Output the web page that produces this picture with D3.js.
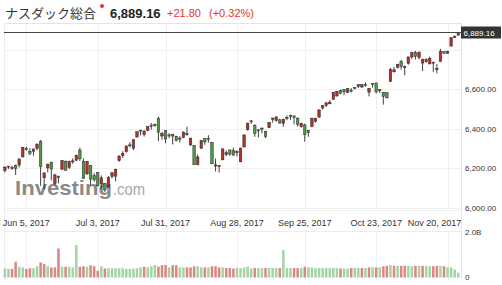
<!DOCTYPE html>
<html><head><meta charset="utf-8">
<script src="https://cdn.jsdelivr.net/npm/d3@7"></script>
<style>body{margin:0;background:#fff}svg{display:block;font-family:Arial,"Liberation Sans",sans-serif}</style>
</head><body><svg id="c" width="502" height="285"></svg>
<script>
const dates = ["05-25","05-26","05-30","05-31",
"06-01","06-02","06-05","06-06","06-07","06-08","06-09","06-12","06-13","06-14","06-15","06-16","06-19","06-20","06-21","06-22","06-23","06-26","06-27","06-28","06-29","06-30",
"07-03","07-05","07-06","07-07","07-10","07-11","07-12","07-13","07-14","07-17","07-18","07-19","07-20","07-21","07-24","07-25","07-26","07-27","07-28","07-31",
"08-01","08-02","08-03","08-04","08-07","08-08","08-09","08-10","08-11","08-14","08-15","08-16","08-17","08-18","08-21","08-22","08-23","08-24","08-25","08-28","08-29","08-30","08-31",
"09-01","09-05","09-06","09-07","09-08","09-11","09-12","09-13","09-14","09-15","09-18","09-19","09-20","09-21","09-22","09-25","09-26","09-27","09-28","09-29",
"10-02","10-03","10-04","10-05","10-06","10-09","10-10","10-11","10-12","10-13","10-16","10-17","10-18","10-19","10-20","10-23","10-24","10-25","10-26","10-27","10-30","10-31",
"11-01","11-02","11-03","11-06","11-07","11-08","11-09","11-10","11-13","11-14","11-15","11-16","11-17","11-20","11-21","11-22","11-24"].map(d => "2017-" + d);

const open = [6188,6207,6200,6213,6216,6257,6300,6285,6285,6300,6336,6151,6201,6230,6121,6158,6194,6235,6204,6232,6240,6292,6235,6170,6212,6163,
6177,6120,6122,6102,6157,6159,6238,6263,6283,6318,6301,6358,6393,6371,6390,6418,6421,6452,6363,6391,
6369,6371,6362,6352,6355,6376,6318,6315,6218,6300,6351,6351,6330,6210,6213,6242,6268,6292,6290,6281,6232,6307,6395,
6440,6416,6394,6403,6387,6405,6447,6441,6445,6427,6458,6467,6465,6454,6410,6419,6392,6412,6437,6459,
6505,6519,6526,6549,6566,6593,6600,6585,6596,6610,6614,6612,6625,6586,6630,6632,6593,6584,6583,6640,6689,6711,
6740,6714,6731,6764,6788,6762,6733,6740,6729,6735,6700,6741,6792,6782,6819,6867,6875];
const high = [6209,6211,6212,6218,6247,6306,6309,6301,6298,6325,6342,6179,6222,6233,6171,6162,6241,6238,6238,6249,6268,6303,6249,6236,6215,6174,
6180,6163,6125,6160,6180,6197,6265,6285,6314,6331,6345,6385,6393,6392,6414,6429,6425,6461,6384,6392,
6377,6375,6363,6363,6384,6410,6353,6317,6269,6341,6352,6367,6333,6248,6216,6300,6290,6294,6304,6290,6303,6371,6429,
6444,6423,6398,6406,6389,6433,6455,6460,6451,6450,6467,6471,6466,6456,6430,6426,6394,6456,6455,6496,
6518,6532,6545,6586,6590,6599,6600,6604,6606,6611,6624,6624,6635,6606,6631,6634,6600,6587,6584,6708,6713,6728,
6750,6721,6765,6787,6795,6790,6756,6757,6766,6739,6728,6805,6792,6796,6863,6874,6890];
const low = [6178,6196,6191,6165,6203,6253,6288,6266,6263,6290,6110,6092,6178,6138,6110,6123,6193,6188,6196,6222,6236,6236,6146,6167,6110,6131,
6107,6094,6077,6101,6148,6133,6232,6252,6278,6305,6291,6355,6366,6360,6389,6396,6409,6337,6344,6326,
6352,6320,6335,6330,6352,6363,6312,6216,6214,6299,6318,6329,6221,6183,6177,6240,6260,6262,6264,6260,6230,6306,6390,
6425,6359,6356,6376,6352,6404,6431,6436,6425,6410,6443,6445,6422,6411,6405,6334,6359,6407,6431,6455,
6497,6510,6525,6548,6563,6575,6570,6580,6583,6599,6607,6607,6614,6564,6608,6578,6581,6522,6555,6637,6685,6706,
6700,6671,6725,6754,6751,6752,6693,6735,6727,6689,6681,6740,6781,6781,6819,6860,6872];
const close = [6205.26,6210.19,6203.19,6198.52,6246.83,6305.80,6295.68,6275.06,6297.38,6321.76,6207.92,6175.46,6220.37,6194.89,6165.50,6151.76,6239.01,6188.03,6233.95,6236.69,6265.25,6247.15,6146.62,6234.41,6144.35,6140.42,
6110.06,6150.86,6089.46,6153.08,6176.39,6193.30,6261.17,6274.44,6312.47,6314.43,6344.31,6385.04,6390.00,6387.75,6410.81,6412.17,6422.75,6382.19,6374.68,6348.12,
6362.94,6362.65,6340.34,6351.56,6383.77,6370.46,6352.33,6216.87,6256.56,6340.23,6333.01,6345.11,6221.91,6216.53,6213.13,6297.48,6278.41,6271.33,6265.64,6283.02,6301.89,6368.31,6428.66,
6435.33,6375.57,6393.31,6397.87,6360.19,6432.26,6454.28,6460.19,6429.08,6448.47,6454.64,6461.32,6456.04,6422.69,6426.92,6370.59,6380.16,6453.26,6453.45,6495.96,
6516.72,6531.71,6534.63,6585.36,6590.18,6579.73,6587.25,6603.55,6591.51,6605.80,6624.00,6623.66,6624.22,6605.07,6629.05,6586.83,6598.43,6563.89,6556.77,6701.26,6698.96,6727.67,
6716.53,6714.94,6764.44,6786.44,6767.78,6789.12,6750.05,6750.94,6757.60,6737.87,6706.21,6793.29,6782.79,6790.71,6862.48,6867.36,6889.16];
const prevClose = 6163.02;
// volume in billions
const volume = [.41,.38,.38,.70,.48,.45,.38,.41,.41,.50,
.67,.60,.50,.45,.45,1.29,.48,.48,.48,.45,
1.44,.48,.50,.48,.54,.50,.30,.50,.40,.41,
.41,.41,.41,.41,.38,.38,.40,.41,.45,.48,
.45,.50,.55,.48,.55,.55,.45,.55,.55,.45,
.45,.45,.45,.50,.50,.45,.45,.45,.50,.50,
.45,.45,.42,.42,.40,.42,.42,.45,.48,.40,
.42,.42,.42,.42,.42,.42,.42,.42,1.22,.42,
.42,.42,.42,.42,.48,.45,.45,.42,.42,.42,
.42,.42,.42,.42,.40,.40,.40,.42,.42,.42,
.42,.42,.45,.45,.45,.45,.50,.52,.55,.52,
.52,.52,.52,.52,.50,.52,.52,.52,.52,.50,
.50,.52,.52,.50,.45,.45,.35,.22];
const priceTicks = [6000, 6200, 6400, 6600, 6800];
const priceTickLabels = ["6,000.00", "6,200.00", "6,400.00", "6,600.00", ""];
const dateTicks = ["2017-06-05","2017-07-03","2017-07-31","2017-08-28","2017-09-25","2017-10-23","2017-11-20"];
const dateTickLabels = ["Jun 5, 2017","Jul 3, 2017","Jul 31, 2017","Aug 28, 2017","Sep 25, 2017","Oct 23, 2017","Nov 20, 2017"];
const volTicks = [0, 2.0];
const volTickLabels = ["0", "2.0B"];
const title = "ナスダック総合";
const lastLabel = "6,889.16";
const changeLabel = "+21.80";
const pctLabel = "(+0.32%)";

const svg = d3.select("#c");
const L = 4, R = 461;
const x = d3.scaleBand().domain(dates).range([2.6, 460.6]).padding(0.3);
const cx = d => x(d) + x.bandwidth() / 2;
const y = d3.scaleLinear().domain([6000, 6600]).range([207.5, 89.3]);
const yv = d3.scaleLinear().domain([0, 2.0]).range([277.5, 232.5]);

// header
svg.append("text").attr("x", 5).attr("y", 18).attr("font-family", "'Noto Sans CJK JP'").attr("font-size", 13).attr("fill", "#333").text(title);
svg.append("circle").attr("cx", 102).attr("cy", 6).attr("r", 2).attr("fill", "#e3342f");
svg.append("text").attr("x", 110).attr("y", 17.5).attr("font-size", 13).attr("font-weight", "bold").attr("fill", "#222").text(lastLabel);
svg.append("text").attr("x", 167).attr("y", 17).attr("font-size", 11).attr("fill", "#e3342f").text(changeLabel);
svg.append("text").attr("x", 209).attr("y", 17).attr("font-size", 11).attr("fill", "#e3342f").text(pctLabel);

// grid
const g = svg.append("g");
g.append("line").attr("x1", L).attr("x2", R).attr("y1", 23.5).attr("y2", 23.5).attr("stroke", "#e4e4e4");
g.selectAll(".hg").data(priceTicks).join("line").attr("x1", L).attr("x2", R)
  .attr("y1", d => Math.round(y(d)) + 0.5).attr("y2", d => Math.round(y(d)) + 0.5).attr("stroke", "#f0f0f0");
g.selectAll(".vg").data(dateTicks).join("line").attr("x1", d => Math.round(cx(d)) + 0.5).attr("x2", d => Math.round(cx(d)) + 0.5)
  .attr("y1", 24).attr("y2", 210).attr("stroke", "#f0f0f0");
g.selectAll(".vg2").data(dateTicks).join("line").attr("x1", d => Math.round(cx(d)) + 0.5).attr("x2", d => Math.round(cx(d)) + 0.5)
  .attr("y1", 232).attr("y2", 280).attr("stroke", "#f0f0f0");
g.append("line").attr("x1", L).attr("x2", R).attr("y1", 210.5).attr("y2", 210.5).attr("stroke", "#f0f0f0");
g.append("line").attr("x1", L).attr("x2", R).attr("y1", 231.5).attr("y2", 231.5).attr("stroke", "#ececec");
g.append("line").attr("x1", L + 0.5).attr("x2", L + 0.5).attr("y1", 23).attr("y2", 280).attr("stroke", "#ececec");
g.append("line").attr("x1", R + 0.5).attr("x2", R + 0.5).attr("y1", 23).attr("y2", 278).attr("stroke", "#dfe5ee");

// watermark
svg.append("text").attr("x", 15).attr("y", 195).attr("fill", "#8a8a8a").attr("font-size", 21).attr("font-weight", "bold")
  .attr("textLength", 97).attr("lengthAdjust", "spacingAndGlyphs").text("Investing");
svg.append("text").attr("x", 113).attr("y", 195).attr("fill", "#a8a8a8").attr("font-size", 17)
  .attr("textLength", 32).attr("lengthAdjust", "spacingAndGlyphs").text(".com");

// axes labels
svg.selectAll(".yl").data(priceTicks).join("text").attr("x", 465).attr("y", d => y(d) + 3).attr("font-size", 8).attr("fill", "#333")
  .text((d, i) => priceTickLabels[i]);
svg.selectAll(".xl").data(dateTicks).join("text").attr("x", (d, i) => i === dateTicks.length - 1 ? 434.5 : cx(d)).attr("y", 226)
  .attr("text-anchor", "middle").attr("font-size", 9).attr("fill", "#333").text((d, i) => dateTickLabels[i]);
svg.selectAll(".vl").data(volTicks).join("text").attr("x", 465).attr("y", d => yv(d) + 2.5).attr("font-size", 8).attr("fill", "#333")
  .text((d, i) => volTickLabels[i]);

// volume
const bw = x.bandwidth();
svg.append("g").selectAll("rect").data(dates).join("rect")
  .attr("x", d => x(d)).attr("width", bw)
  .attr("y", (d, i) => yv(volume[i])).attr("height", (d, i) => yv(0) - yv(volume[i]))
  .attr("fill", (d, i) => close[i] >= (i ? close[i - 1] : prevClose) ? "#a3d3a6" : "#d98783");

// candles
const cg = svg.append("g");
cg.selectAll("line").data(dates).join("line")
  .attr("x1", d => cx(d)).attr("x2", d => cx(d))
  .attr("y1", (d, i) => y(high[i])).attr("y2", (d, i) => y(low[i]))
  .attr("stroke", "#2a2a2a").attr("stroke-width", 0.9);
cg.selectAll("rect").data(dates).join("rect")
  .attr("x", d => x(d)).attr("width", bw)
  .attr("y", (d, i) => y(Math.max(open[i], close[i])))
  .attr("height", (d, i) => Math.max(1, Math.abs(y(open[i]) - y(close[i]))))
  .attr("fill", (d, i) => close[i] >= open[i] ? "#b0302a" : "#4e9a43")
  .attr("stroke", "#2a2a2a").attr("stroke-width", 0.5);

// last price line + label
const ly = Math.round(y(close[close.length - 1])) + 0.5;
svg.append("line").attr("x1", L).attr("x2", R).attr("y1", ly).attr("y2", ly).attr("stroke", "#444").attr("stroke-width", 1.2);
svg.append("rect").attr("x", R).attr("y", ly - 6).attr("width", 40).attr("height", 12).attr("fill", "#333");
svg.append("text").attr("x", R + 2.5).attr("y", ly + 3).attr("font-size", 8).attr("fill", "#fff").text(lastLabel);
</script></body></html>
